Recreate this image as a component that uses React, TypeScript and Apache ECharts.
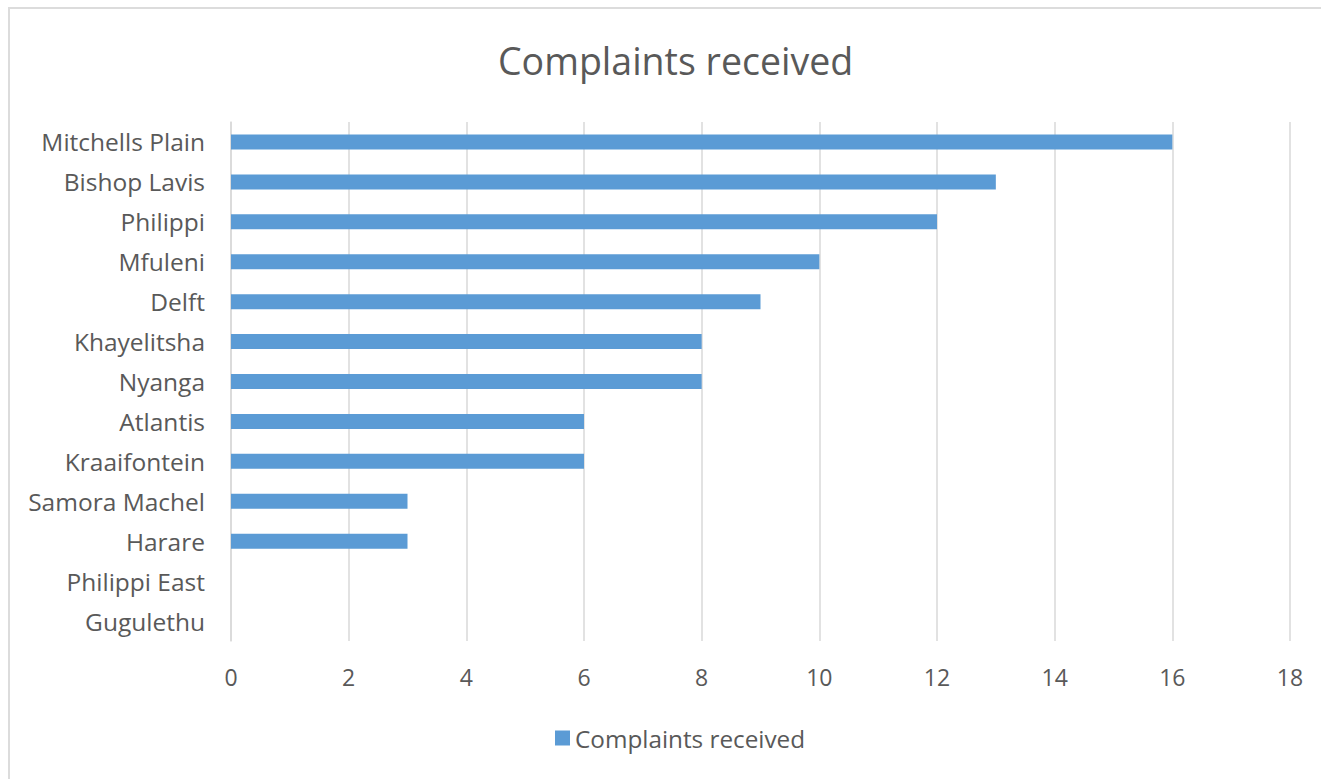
import React, { useEffect, useRef } from "react";
import * as echarts from "echarts";

const categories = [
  "Mitchells Plain",
  "Bishop Lavis",
  "Philippi",
  "Mfuleni",
  "Delft",
  "Khayelitsha",
  "Nyanga",
  "Atlantis",
  "Kraaifontein",
  "Samora Machel",
  "Harare",
  "Philippi East",
  "Gugulethu",
];
const complaints = [16, 13, 12, 10, 9, 8, 8, 6, 6, 3, 3, 0, 0];
const seriesName = "Complaints received";
const titleText = "Complaints received";

const FONT = "'Open Sans', 'Noto Sans', sans-serif";

export default function App() {
  const ref = useRef<HTMLDivElement>(null);
  useEffect(() => {
    document.body.style.margin = "0";
    const chart = echarts.init(ref.current!, null, { renderer: "svg" });
    chart.setOption({
      animation: false,
      backgroundColor: "#ffffff",
      title: {
        text: titleText,
        left: 493,
        top: 36,
        textStyle: { fontFamily: FONT, fontSize: 37.5, fontWeight: "normal", color: "#595959" },
      },
      graphic: [
        {
          type: "rect",
          shape: { x: 9, y: 8, width: 1400, height: 800 },
          style: { fill: "none", stroke: "#dcdcdc", lineWidth: 2 },
          silent: true,
        },
      ],
      legend: {
        bottom: 24,
        left: 550,
        itemWidth: 15,
        itemHeight: 15,
        icon: "rect",
        itemGap: 8,
        textStyle: { fontFamily: FONT, fontSize: 24.3, color: "#595959" },
        data: [seriesName],
      },
      grid: { left: 231, right: 31, top: 122, bottom: 138, containLabel: false },
      xAxis: {
        type: "value",
        min: 0,
        max: 18,
        interval: 2,
        axisLine: { show: false },
        axisTick: { show: false },
        splitLine: { show: true, lineStyle: { color: "#d9d9d9", width: 1.5 } },
        axisLabel: { fontFamily: FONT, fontSize: 23, color: "#595959", margin: 24 },
      },
      yAxis: {
        type: "category",
        inverse: true,
        data: categories,
        axisLine: { show: true, lineStyle: { color: "#d9d9d9", width: 1.5 } },
        axisTick: { show: false },
        axisLabel: { fontFamily: FONT, fontSize: 24.5, color: "#595959", margin: 26 },
      },
      series: [
        {
          name: seriesName,
          type: "bar",
          data: complaints,
          barWidth: 15,
          itemStyle: { color: "#5b9bd5" },
        },
      ],
    });
    return () => chart.dispose();
  }, []);
  return <div ref={ref} style={{ width: 1321, height: 779 }} />;
}
